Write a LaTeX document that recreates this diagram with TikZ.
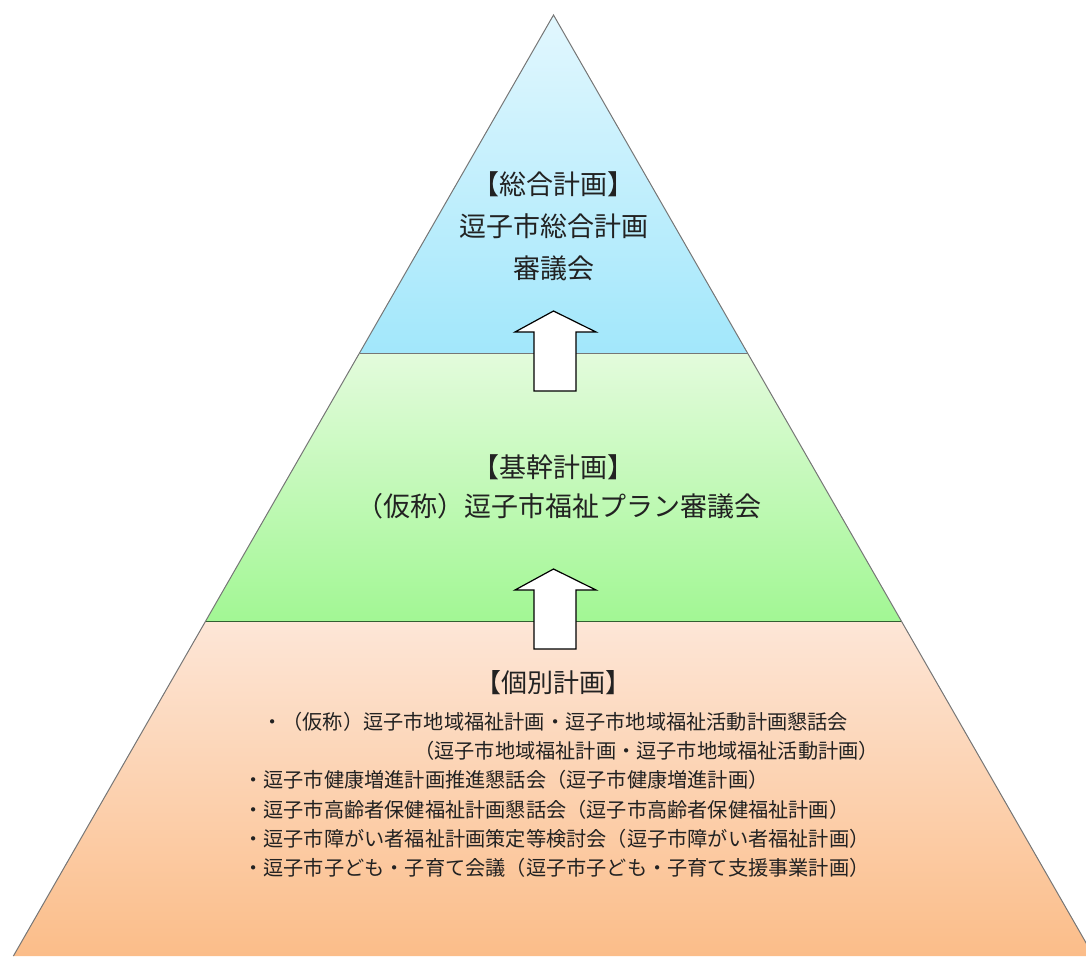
\documentclass[tikz,border=0pt]{standalone}
\usepackage{fontspec}
\newfontfamily\jp{Noto Sans CJK JP}
\definecolor{edge}{HTML}{767676}
\definecolor{blueTop}{HTML}{E2F7FE}
\definecolor{blueBot}{HTML}{A2E7FB}
\definecolor{greenTop}{HTML}{E3FBDC}
\definecolor{greenBot}{HTML}{A2F794}
\definecolor{orTop}{HTML}{FDE6D7}
\definecolor{orBot}{HTML}{FBBD89}
\definecolor{ink}{HTML}{222222}
\tikzset{
  head/.style={inner sep=0pt, text=ink, font=\jp\fontsize{27pt}{27pt}\selectfont},
  item/.style={inner sep=0pt, anchor=west, text=ink, font=\jp\fontsize{20.2pt}{20.2pt}\selectfont},
  band/.style={draw=edge, line width=1pt},
  blockarrow/.style={draw=black, fill=white, line width=1.2pt, line join=miter}
}
\begin{document}
\begin{tikzpicture}[x=1pt,y=-1pt]
\useasboundingbox (0,0) rectangle (1086,956);
\clip (0,0) rectangle (1086,956);
% bands
\shade[top color=blueTop, bottom color=blueBot] (553.5,15) -- (359.5,353) -- (747.5,353) -- cycle;
\shade[top color=greenTop, bottom color=greenBot] (359.5,353) -- (205.7,621) -- (901.3,621) -- (747.5,353) -- cycle;
\shade[top color=orTop, bottom color=orBot] (205.7,621) -- (13.4,956) -- (1093.6,956) -- (901.3,621) -- cycle;
\draw[band] (13.4,956) -- (553.5,15) -- (1093.6,956);
\draw[band] (359.5,353) -- (747.5,353);
\draw[band, draw=edge!70!green!60!black] (205.7,621) -- (901.3,621);
% arrows
\draw[blockarrow] (553.5,311) -- (596,332) -- (576,332) -- (576,391) -- (534,391) -- (534,332) -- (515,332) -- cycle;
\draw[blockarrow] (553.5,569) -- (596,590) -- (576,590) -- (576,649) -- (534,649) -- (534,590) -- (515,590) -- cycle;
% texts
\node[head] (t1) at (553.5,184) {【総合計画】};
\node[head] (t2) at (553.5,226) {逗子市総合計画};
\node[head] (t3) at (553.5,268) {審議会};
\node[head] (m1) at (553.5,467) {【基幹計画】};
\node[head] (m2) at (559,506) {（仮称）逗子市福祉プラン審議会};
\node[head, font=\jp\fontsize{26pt}{26pt}\selectfont] (b0) at (553.5,683) {【個別計画】};
\node[item] (b1) at (262,722) {・（仮称）逗子市地域福祉計画・逗子市地域福祉活動計画懇話会};
\node[item] (b2) at (414,751) {（逗子市地域福祉計画・逗子市地域福祉活動計画）};
\node[item] (b3) at (243,780) {・逗子市健康増進計画推進懇話会（逗子市健康増進計画）};
\node[item] (b4) at (243,810) {・逗子市高齢者保健福祉計画懇話会（逗子市高齢者保健福祉計画）};
\node[item] (b5) at (243,839) {・逗子市障がい者福祉計画策定等検討会（逗子市障がい者福祉計画）};
\node[item] (b6) at (243,868) {・逗子市子ども・子育て会議（逗子市子ども・子育て支援事業計画）};
\end{tikzpicture}
\end{document}
